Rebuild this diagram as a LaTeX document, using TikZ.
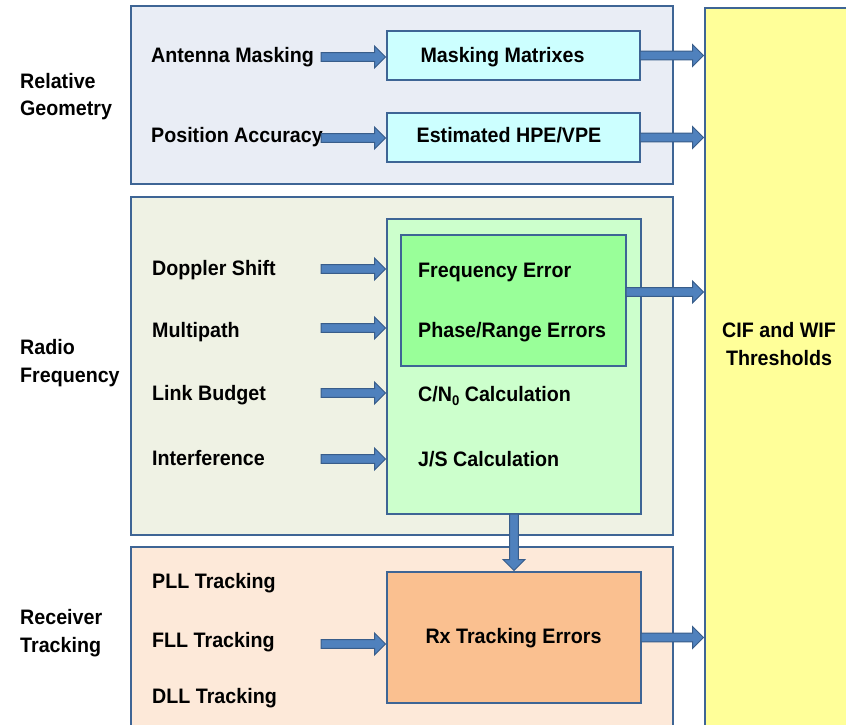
\documentclass[tikz,border=0pt]{standalone}
\usepackage{fontspec}
\setmainfont{Liberation Sans}[FakeStretch=0.94]
\usetikzlibrary{calc}

\definecolor{edgeblue}{HTML}{3E6595}
\definecolor{arrowfill}{HTML}{4F81BD}
\definecolor{arrowedge}{HTML}{385D8A}
\definecolor{geomfill}{HTML}{E9EDF5}
\definecolor{rffill}{HTML}{EFF2E4}
\definecolor{rxfill}{HTML}{FDE9D9}
\definecolor{cyanbox}{HTML}{CCFFFF}
\definecolor{lightgreen}{HTML}{CCFFCC}
\definecolor{midgreen}{HTML}{99FF99}
\definecolor{orangebox}{HTML}{FAC090}
\definecolor{yellowbox}{HTML}{FFFF99}

% horizontal block arrow: shaft at the height of #1, tip just left of #2
\newcommand\rarrow[2]{%
  \path[blockarrow] let \p1=#1, \p2=#2 in
    (\x1,{\y1-4.3bp}) -- ({\x2-12.5bp},{\y1-4.3bp}) -- ({\x2-12.5bp},{\y1-11bp})
    -- ({\x2-1.5bp},\y1) -- ({\x2-12.5bp},{\y1+11bp}) -- ({\x2-12.5bp},{\y1+4.3bp})
    -- (\x1,{\y1+4.3bp}) -- cycle;}
% downward block arrow from #1 to just above #2
\newcommand\darrow[2]{%
  \path[blockarrow] let \p1=#1, \p2=#2 in
    ({\x1-4.3bp},\y1) -- ({\x1-4.3bp},{\y2+12.5bp}) -- ({\x1-11bp},{\y2+12.5bp})
    -- (\x1,{\y2+1.5bp}) -- ({\x1+11bp},{\y2+12.5bp}) -- ({\x1+4.3bp},{\y2+12.5bp})
    -- ({\x1+4.3bp},\y1) -- cycle;}

\tikzset{
  box/.style={draw=edgeblue, line width=1.8bp, rectangle, inner sep=0pt, outer sep=0pt},
  lbl/.style={font=\bfseries\fontsize{21}{28}\selectfont, text=black, inner sep=0pt},
  blockarrow/.style={fill=arrowfill, draw=arrowedge, line width=1bp, line join=miter},
}

\begin{document}
\begin{tikzpicture}[x=1bp, y=-1bp]
\useasboundingbox (0,0) rectangle (846,725);
\clip (0,0) rectangle (846,725);
\fill[white] (0,0) rectangle (846,725);

% group panels
\node[box, fill=geomfill, minimum width=542bp, minimum height=178bp] (geo) at (402,95) {};
\node[box, fill=rffill, minimum width=542bp, minimum height=338bp] (rfp) at (402,366) {};
\node[box, fill=rxfill, minimum width=542bp, minimum height=193bp] (rxp) at (402,643.5) {};
\node[box, fill=yellowbox, minimum width=155bp, minimum height=732bp] (yel) at (782.5,374) {};

% result boxes
\node[box, fill=cyanbox, minimum width=253bp, minimum height=49bp] (mm) at (513.5,55.5) {};
\node[box, fill=cyanbox, minimum width=253bp, minimum height=49bp] (hpe) at (513.5,137.5) {};
\node[box, fill=lightgreen, minimum width=254bp, minimum height=295bp] (rf) at (514,366.5) {};
\node[box, fill=midgreen, minimum width=225bp, minimum height=131bp] (fe) at (513.5,300.5) {};
\node[box, fill=orangebox, minimum width=254bp, minimum height=131bp] (rx) at (514,637.5) {};

% group titles (base anchor sits on the last line)
\node[lbl, anchor=base west, align=left] (tgeo) at (20,116) {Relative\\Geometry};
\node[lbl, anchor=base west, align=left] (trf) at (20,382) {Radio\\Frequency};
\node[lbl, anchor=base west, align=left] (trx) at (20,652) {Receiver\\Tracking};

% inputs
\node[lbl, anchor=base west] (ant) at (151,63) {Antenna Masking};
\node[lbl, anchor=base west] (pos) at (151,143) {Position Accuracy};
\node[lbl, anchor=base west] (dop) at (152,275) {Doppler Shift};
\node[lbl, anchor=base west] (mp) at (152,337) {Multipath};
\node[lbl, anchor=base west] (lb) at (152,400) {Link Budget};
\node[lbl, anchor=base west] (intf) at (152,465) {Interference};
\node[lbl, anchor=base west] (pll) at (152,588) {PLL Tracking};
\node[lbl, anchor=base west] (fll) at (152,647) {FLL Tracking};
\node[lbl, anchor=base west] (dll) at (152,703) {DLL Tracking};

% box texts
\node[lbl, anchor=base] (tmm) at (502.5,63) {Masking Matrixes};
\node[lbl, anchor=base] (thpe) at (509,143) {Estimated HPE/VPE};
\node[lbl, anchor=base west] (tfe) at (418,277) {Frequency Error};
\node[lbl, anchor=base west] (tpr) at (418,337) {Phase/Range Errors};
\node[lbl, anchor=base west] (tcn) at (418,401) {C/N\raisebox{-0.22em}{\fontsize{14}{14}\selectfont 0} Calculation};
\node[lbl, anchor=base west] (tjs) at (418,466) {J/S Calculation};
\node[lbl, anchor=base] (trxe) at (513.5,643) {Rx Tracking Errors};
\node[lbl, anchor=base, align=center] (tyel) at (779,365) {CIF and WIF\\Thresholds};

% arrow start points
\coordinate (a1) at (321,57);
\coordinate (a2) at (321,138);
\coordinate (a3) at (321,269);
\coordinate (a4) at (321,328);
\coordinate (a5) at (321,393);
\coordinate (a6) at (321,459);
\coordinate (a7) at (321,644);
\coordinate (feout) at (626,292);

% connectors
\rarrow{(a1)}{(mm.west)}
\rarrow{(a2)}{(hpe.west)}
\rarrow{(a3)}{(rf.west)}
\rarrow{(a4)}{(rf.west)}
\rarrow{(a5)}{(rf.west)}
\rarrow{(a6)}{(rf.west)}
\rarrow{(a7)}{(rx.west)}
\rarrow{(mm.east)}{(yel.west)}
\rarrow{(hpe.east)}{(yel.west)}
\rarrow{(feout)}{(yel.west)}
\rarrow{(rx.east)}{(yel.west)}
\darrow{(rf.south)}{(rx.north)}
\end{tikzpicture}
\end{document}
